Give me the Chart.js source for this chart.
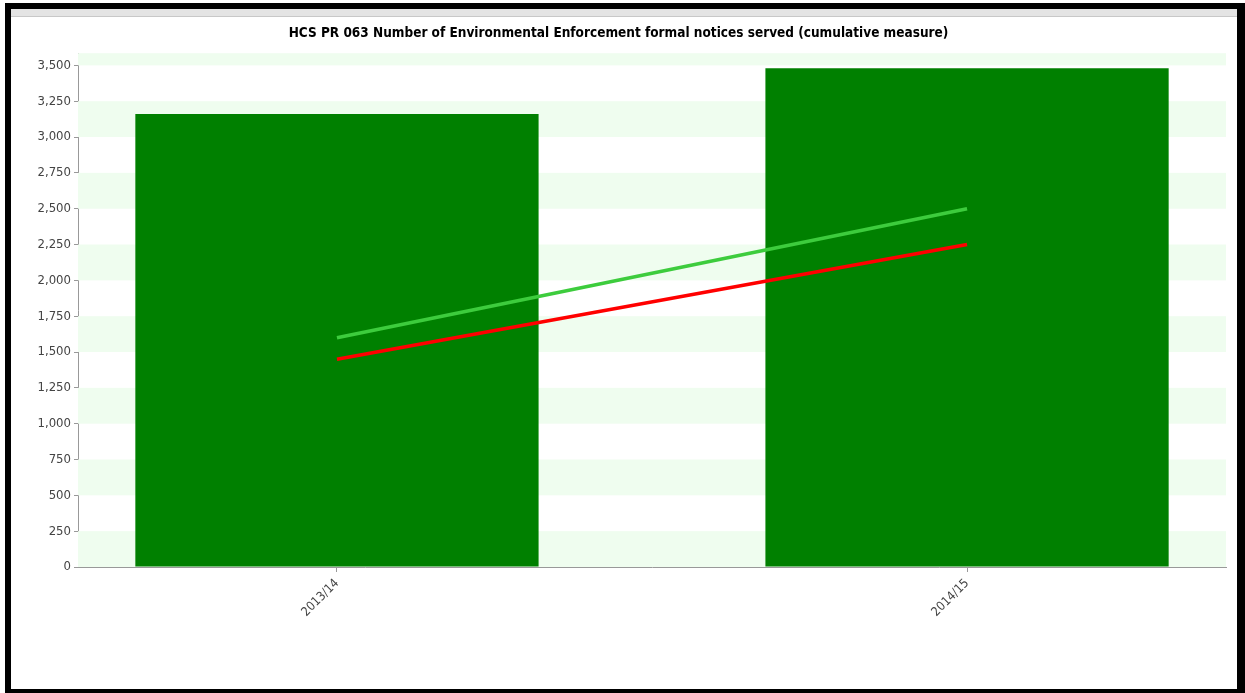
<!DOCTYPE html>
<html>
<head>
<meta charset="utf-8">
<script src="https://cdn.jsdelivr.net/npm/chart.js@4"></script>
<style>
    html, body { margin: 0; padding: 0; background: #fff; }
    .frame {
        position: absolute; left: 5px; top: 3px; width: 1226px; height: 680px;
        border-left: 6px solid #000; border-top: 6px solid #000;
        border-right: 8px solid #000; border-bottom: 5px solid #000;
        background: #fff;
    }
    .strip { height: 7px; background: #e4e4e4; border-bottom: 1px solid #c8c8c8; }
    .box { position: absolute; left: 0; top: 8px; width: 1226px; height: 672px; }
</style>
</head>
<body>
<div class="frame">
    <div class="strip"></div>
    <div class="box"><canvas id="chart"></canvas></div>
</div>
<script>
const periods   = ['2013/14', '2014/15'];
const actual    = [3160, 3480];
const target    = [1600, 2500];
const threshold = [1450, 2250];
const yTicks    = [0, 250, 500, 750, 1000, 1250, 1500, 1750, 2000, 2250, 2500, 2750, 3000, 3250, 3500];
const yMax      = 3585;

const toPoints = arr => arr.map((v, i) => ({ x: i, y: v }));

// bandas verdes alternas detrás de las barras
const bandas = {
    id: 'bandas',
    beforeDatasetsDraw(chart) {
        const { ctx, chartArea, scales } = chart;
        const y = scales.y;
        ctx.save();
        ctx.fillStyle = '#effdef';
        for (let i = 0; i < yTicks.length; i += 2) {
            const from = yTicks[i];
            const to = Math.min(yTicks[i + 1] ?? yMax, yMax);
            const top = y.getPixelForValue(to);
            const bottom = y.getPixelForValue(from);
            ctx.fillRect(chartArea.left, top, chartArea.right - chartArea.left, bottom - top);
        }
        ctx.restore();
    }
};

const fuente = "'DejaVu Sans Condensed', 'DejaVu Sans', sans-serif";

new Chart(document.getElementById('chart'), {
    data: {
        datasets: [
            {
                type: 'line', label: 'Target', data: toPoints(target),
                borderColor: '#3dcc3d', borderWidth: 3.5, pointRadius: 0, order: 1
            },
            {
                type: 'line', label: 'Threshold', data: toPoints(threshold),
                borderColor: '#ff0000', borderWidth: 3.5, pointRadius: 0, order: 1
            },
            {
                type: 'bar', label: 'Actual', data: toPoints(actual),
                backgroundColor: '#008000', categoryPercentage: 0.8, barPercentage: 0.8, order: 2
            }
        ]
    },
    options: {
        responsive: true,
        maintainAspectRatio: false,
        animation: false,
        events: [],
        layout: { padding: { left: 0, right: 11, top: 0, bottom: 0 } },
        plugins: {
            legend: { display: false },
            tooltip: { enabled: false },
            title: {
                display: true,
                text: 'HCS PR 063 Number of Environmental Enforcement formal notices served (cumulative measure)',
                color: '#000',
                font: { family: fuente, size: 13.5, weight: 'bold' },
                padding: { top: 8, bottom: 12 }
            }
        },
        scales: {
            x: {
                type: 'linear',
                offset: false,
                min: -0.411, max: 1.411,
                afterBuildTicks: s => { s.ticks = periods.map((_, i) => ({ value: i })); },
                afterFit: s => { s.height = 122; },
                ticks: {
                    autoSkip: false, minRotation: 45, maxRotation: 45,
                    color: '#444', padding: 4,
                    font: { family: fuente, size: 12.5 },
                    callback: v => periods[v] ?? ''
                },
                grid: { offset: false, drawOnChartArea: false, tickLength: 5, color: '#999' },
                border: { display: true, color: '#999', width: 1 }
            },
            y: {
                min: 0, max: yMax,
                afterBuildTicks: s => { s.ticks = yTicks.map(v => ({ value: v })); },
                afterFit: s => { s.width = 67; },
                ticks: {
                    color: '#444', padding: 3,
                    font: { family: fuente, size: 13 },
                    callback: v => v.toLocaleString('en-US')
                },
                grid: { drawOnChartArea: false, tickLength: 4, color: '#999' },
                border: { display: true, color: '#999', width: 1 }
            }
        }
    },
    plugins: [bandas]
});
</script>
</body>
</html>
